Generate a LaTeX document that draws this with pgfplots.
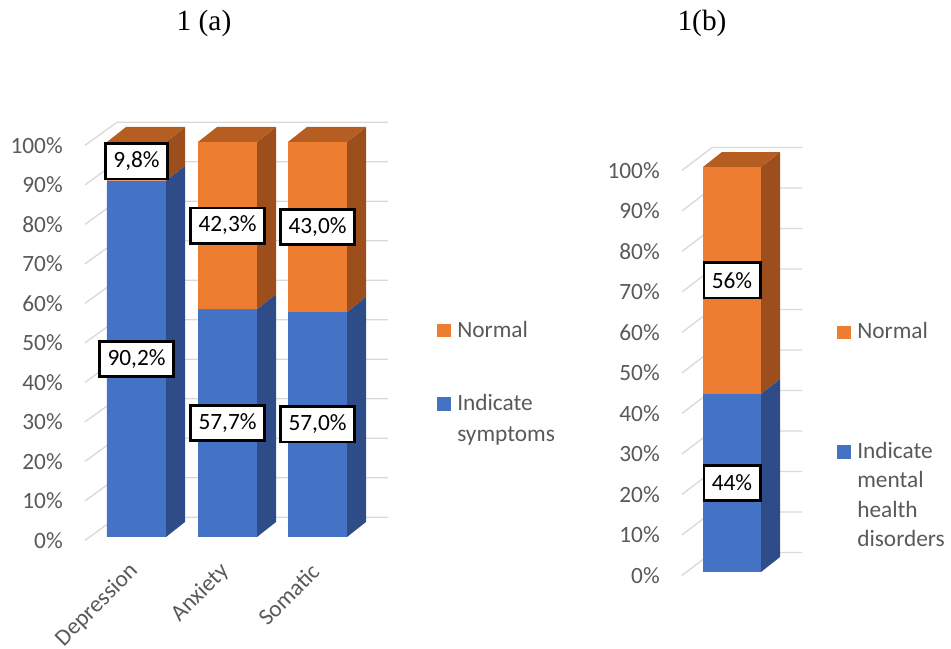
\documentclass[border=0pt]{standalone}
\usepackage{pgfplots}
\pgfplotsset{compat=1.18}
\usepackage{fontspec}
\setmainfont{Carlito}
\newfontfamily\titlefont{Liberation Serif}
\definecolor{cblue}{HTML}{4472C4}
\definecolor{cblueside}{HTML}{2E4C87}
\definecolor{corange}{HTML}{ED7D31}
\definecolor{corangeside}{HTML}{9C4F1D}
\definecolor{corangetop}{HTML}{B65E22}
\definecolor{cgrid}{HTML}{D9D9D9}
\definecolor{ctext}{HTML}{595959}
\newcommand\lblfont{\fontsize{17.5}{21}\selectfont}
% side face: xr, y0, y1, dy, colour
\newcommand\side[5]{\fill[#5] (axis cs:#1,#2) -- (axis cs:{#1+19},{#2+#4}) -- (axis cs:{#1+19},{#3+#4}) -- (axis cs:#1,#3) -- cycle;}
% top face: xl, xr, y, dy, colour
\newcommand\topface[5]{\fill[#5] (axis cs:#1,#3) -- (axis cs:{#1+19},{#3+#4}) -- (axis cs:{#2+19},{#3+#4}) -- (axis cs:#2,#3) -- cycle;}
\newcommand\dlabel[3]{\node[draw=black, line width=2pt, fill=white, text=black, font=\lblfont, inner xsep=6pt, inner ysep=0pt, minimum height=26.5pt] at (axis cs:#1,#2) {#3};}
\pgfplotsset{
  panel/.style={
    scale only axis, clip=false, enlargelimits=false,
    axis line style={draw=none}, tick style={draw=none},
    ybar stacked, reverse stacked plots=false,
    ytick={0,10,20,30,40,50,60,70,80,90,100},
    yticklabels={0\%,10\%,20\%,30\%,40\%,50\%,60\%,70\%,80\%,90\%,100\%},
    yticklabel style={font=\lblfont, text=ctext, anchor=east, inner sep=0pt, xshift=-16.5pt, yshift=-2.6pt},
  }
}
\begin{document}
\begin{tikzpicture}
\useasboundingbox (0,0) rectangle (713.25pt,486.75pt);
% ---------- panel (a)
\begin{axis}[panel,
  at={(63.75pt,84pt)}, anchor=south west,
  x=0.75pt, y=2.9625pt,
  xmin=85, xmax=390, ymin=0, ymax=106,
  bar width=44.25pt,
  xtick={136.5,227.5,317.5}, xticklabels={Depression,Anxiety,Somatic},
  xticklabel style={font=\lblfont, text=ctext, xshift=-1.5pt, yshift=-23pt, rotate=45, anchor=east, inner sep=0pt},
]
\pgfplotsinvokeforeach{0,10,20,30,40,50,60,70,80,90,100}{
  \draw[cgrid, line width=1pt] (axis cs:85,{#1-0.85}) -- (axis cs:117,{#1+5.0}) -- (axis cs:388,{#1+5.0});
}
% front faces (Indicate symptoms / Normal)
\addplot[fill=cblue, draw=none] coordinates {(136.5,90.2) (227.5,57.7) (317.5,57.0)};
\addplot[fill=corange, draw=none] coordinates {(136.5,9.8) (227.5,42.3) (317.5,43.0)};
% depth
\side{166}{0}{90.2}{3.8}{cblueside}
\side{166}{90.2}{100}{3.8}{corangeside}
\topface{107}{166}{100}{3.8}{corangetop}
\side{257}{0}{57.7}{3.8}{cblueside}
\side{257}{57.7}{100}{3.8}{corangeside}
\topface{198}{257}{100}{3.8}{corangetop}
\side{347}{0}{57.0}{3.8}{cblueside}
\side{347}{57.0}{100}{3.8}{corangeside}
\topface{288}{347}{100}{3.8}{corangetop}
% data labels
\dlabel{136.5}{45.1}{90,2\%}
\dlabel{136.5}{95.1}{9,8\%}
\dlabel{227.5}{28.85}{57,7\%}
\dlabel{227.5}{78.85}{42,3\%}
\dlabel{317.5}{28.5}{57,0\%}
\dlabel{317.5}{78.5}{43,0\%}
\end{axis}
% ---------- panel (b)
\begin{axis}[panel,
  at={(511.5pt,57.75pt)}, anchor=south west,
  x=0.75pt, y=3.0375pt,
  xmin=682, xmax=805, ymin=0, ymax=106,
  bar width=43.5pt,
  xtick=\empty,
]
\pgfplotsinvokeforeach{0,10,20,30,40,50,60,70,80,90,100}{
  \draw[cgrid, line width=1pt] (axis cs:682,{#1-0.85}) -- (axis cs:712,{#1+4.8}) -- (axis cs:802,{#1+4.8});
}
\addplot[fill=cblue, draw=none] coordinates {(732,44)};
\addplot[fill=corange, draw=none] coordinates {(732,56)};
\side{761}{0}{44}{3.7}{cblueside}
\side{761}{44}{100}{3.7}{corangeside}
\topface{703}{761}{100}{3.7}{corangetop}
\dlabel{732}{22}{44\%}
\dlabel{732}{72}{56\%}
\end{axis}
% ---------- titles and legends (pixel coordinates)
\begin{scope}[x=0.75pt, y=-0.75pt, shift={(0pt,486.75pt)}]
\node[font=\titlefont\fontsize{22}{26}\selectfont] at (204,23) {1 (a)};
\node[font=\titlefont\fontsize{22}{26}\selectfont] at (702,23) {1(b)};
\fill[corange] (437,324) rectangle (451,337);
\fill[cblue] (437,397) rectangle (451,411);
\node[font=\lblfont, text=ctext, anchor=base west, inner sep=0pt] at (457,337.5) {Normal};
\node[font=\lblfont, text=ctext, anchor=base west, inner sep=0pt] at (457,411) {Indicate};
\node[font=\lblfont, text=ctext, anchor=base west, inner sep=0pt] at (457,441.5) {symptoms};
\fill[corange] (837,326) rectangle (851,339);
\fill[cblue] (837,445) rectangle (851,459);
\node[font=\lblfont, text=ctext, anchor=base west, inner sep=0pt] at (857,339) {Normal};
\node[font=\lblfont, text=ctext, anchor=base west, inner sep=0pt] at (857,459) {Indicate};
\node[font=\lblfont, text=ctext, anchor=base west, inner sep=0pt] at (857,488) {mental};
\node[font=\lblfont, text=ctext, anchor=base west, inner sep=0pt] at (857,517.5) {health};
\node[font=\lblfont, text=ctext, anchor=base west, inner sep=0pt] at (857,547) {disorders};
\end{scope}
\end{tikzpicture}
\end{document}
